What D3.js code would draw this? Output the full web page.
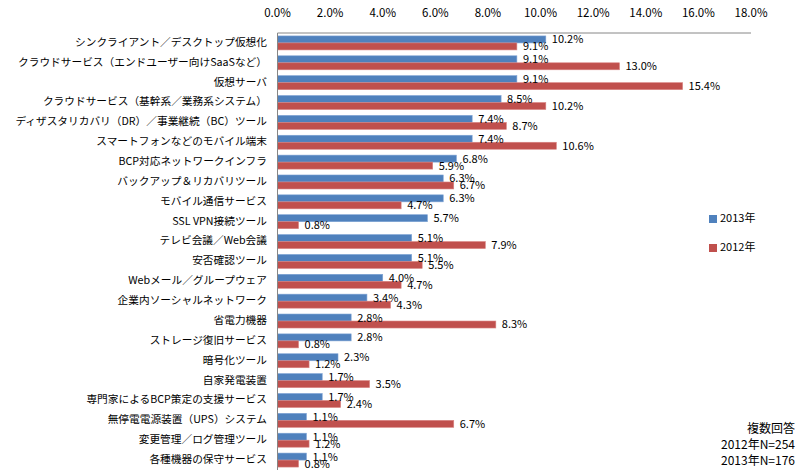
<!DOCTYPE html>
<html>
<head>
<meta charset="utf-8">
<script src="https://cdn.jsdelivr.net/npm/d3@7"></script>
<style>
  body { margin: 0; background: #fff; }
  text { font-family: "Noto Sans CJK JP", "Noto Sans", sans-serif; fill: #000; }
</style>
</head>
<body>
<svg id="chart" width="800" height="476"></svg>
<script>
// categories top to bottom
const categories = [
  'シンクライアント／デスクトップ仮想化',
  'クラウドサービス（エンドユーザー向けSaaSなど）',
  '仮想サーバ',
  'クラウドサービス（基幹系／業務系システム）',
  'ディザスタリカバリ（DR）／事業継続（BC）ツール',
  'スマートフォンなどのモバイル端末',
  'BCP対応ネットワークインフラ',
  'バックアップ＆リカバリツール',
  'モバイル通信サービス',
  'SSL VPN接続ツール',
  'テレビ会議／Web会議',
  '安否確認ツール',
  'Webメール／グループウェア',
  '企業内ソーシャルネットワーク',
  '省電力機器',
  'ストレージ復旧サービス',
  '暗号化ツール',
  '自家発電装置',
  '専門家によるBCP策定の支援サービス',
  '無停電電源装置（UPS）システム',
  '変更管理／ログ管理ツール',
  '各種機器の保守サービス'
];
const series = ['2013年', '2012年'];
const values2013 = [10.2, 9.1, 9.1, 8.5, 7.4, 7.4, 6.8, 6.3, 6.3, 5.7, 5.1, 5.1, 4.0, 3.4, 2.8, 2.8, 2.3, 1.7, 1.7, 1.1, 1.1, 1.1];
const values2012 = [9.1, 13.0, 15.4, 10.2, 8.7, 10.6, 5.9, 6.7, 4.7, 0.8, 7.9, 5.5, 4.7, 4.3, 8.3, 0.8, 1.2, 3.5, 2.4, 6.7, 1.2, 0.8];
const xTicks = [0, 2, 4, 6, 8, 10, 12, 14, 16, 18];
const noteLines = ['複数回答', '2012年N=254', '2013年N=176'];

const colors = {'2013年': '#4f81bd', '2012年': '#c0504d'};
const strokes = {'2013年': '#7ea3d4', '2012年': '#d98482'};

const svg = d3.select('#chart');
const plot = {left: 277.5, right: 751, top: 33, bottom: 470};

const x = d3.scaleLinear().domain([0, 18]).range([plot.left, plot.right]);
const y0 = d3.scaleBand().domain(categories).range([plot.top, plot.bottom]).padding(0);
const y1 = d3.scaleBand().domain(series).range([0, y0.bandwidth()]).paddingInner(0).paddingOuter(0.42);

const rows = categories.map((c, i) => ({
  cat: c,
  vals: [{s: '2013年', v: values2013[i]}, {s: '2012年', v: values2012[i]}]
}));

// top axis labels
svg.append('g').selectAll('text').data(xTicks).join('text')
  .attr('x', d => x(d))
  .attr('y', 17)
  .attr('text-anchor', 'middle')
  .style('font-size', '11.5px')
  .text(d => d.toFixed(1) + '%');

// bars
const grp = svg.append('g').selectAll('g').data(rows).join('g')
  .attr('transform', d => 'translate(0,' + y0(d.cat) + ')');

grp.selectAll('rect').data(d => d.vals).join('rect')
  .attr('x', x(0))
  .attr('y', d => y1(d.s))
  .attr('width', d => x(d.v) - x(0))
  .attr('height', y1.bandwidth())
  .attr('fill', d => colors[d.s])
  .attr('stroke', d => strokes[d.s])
  .attr('stroke-width', 0.6);

grp.selectAll('text.val').data(d => d.vals).join('text')
  .attr('class', 'val')
  .attr('x', d => x(d.v) + 6)
  .attr('y', d => y1(d.s) + y1.bandwidth() / 2 + 1)
  .attr('dominant-baseline', 'middle')
  .style('font-size', '11px')
  .text(d => d.v.toFixed(1) + '%');

// category labels
svg.append('g').selectAll('text').data(categories).join('text')
  .attr('x', 267)
  .attr('y', d => y0(d) + y0.bandwidth() / 2)
  .attr('text-anchor', 'end')
  .attr('dominant-baseline', 'middle')
  .style('font-size', '10.7px')
  .text(d => d);

// axis lines
svg.append('line')
  .attr('x1', plot.left).attr('x2', plot.right)
  .attr('y1', plot.top).attr('y2', plot.top)
  .attr('stroke', '#868686');
svg.append('line')
  .attr('x1', plot.left).attr('x2', plot.left)
  .attr('y1', plot.top).attr('y2', plot.bottom)
  .attr('stroke', '#868686');

// legend
const leg = svg.append('g').selectAll('g').data(series).join('g')
  .attr('transform', (d, i) => 'translate(709,' + (215 + i * 29) + ')');
leg.append('rect').attr('width', 8).attr('height', 8).attr('fill', d => colors[d]);
leg.append('text').attr('x', 11).attr('y', 4).attr('dominant-baseline', 'middle')
  .style('font-size', '11px').text(d => d);

// note
svg.append('g').selectAll('text').data(noteLines).join('text')
  .attr('x', 795)
  .attr('y', (d, i) => 430 + i * 16)
  .attr('text-anchor', 'end')
  .attr('dominant-baseline', 'middle')
  .style('font-size', '12px')
  .text(d => d);
</script>
</body>
</html>
